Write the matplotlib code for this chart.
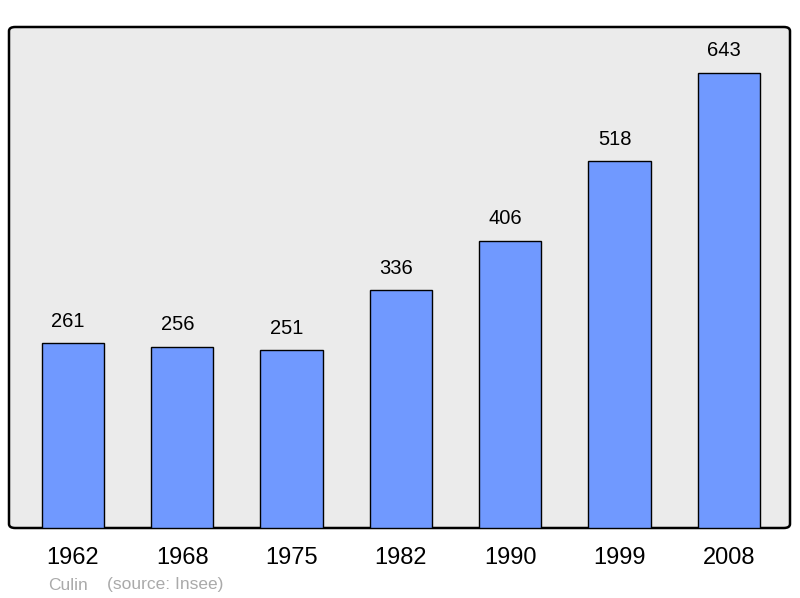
import matplotlib.pyplot as plt
from matplotlib.patches import FancyBboxPatch

plt.rcParams['font.family'] = ['Liberation Sans', 'DejaVu Sans']

years = ['1962', '1968', '1975', '1982', '1990', '1999', '2008']
population = [261, 256, 251, 336, 406, 518, 643]


def main():
    fig = plt.figure(figsize=(8, 5.98), dpi=100)
    ax = fig.add_axes([9 / 800, 1 - 528 / 598, 781 / 800, 501 / 598])
    ax.patch.set_visible(False)
    for s in ax.spines.values():
        s.set_visible(False)

    frame = FancyBboxPatch((0, 0), 1, 1, boxstyle='round,pad=0,rounding_size=0.008',
                           transform=ax.transAxes, facecolor='#ebebeb',
                           edgecolor='black', linewidth=1.8, zorder=0, clip_on=False)
    ax.add_patch(frame)

    x = list(range(len(years)))
    ax.bar(x, population, width=0.57, color='#7099ff', edgecolor='black',
           linewidth=1.0, zorder=2)

    for xi, v in zip(x, population):
        ax.annotate(str(v), (xi, v), xytext=(-3.5, 16), textcoords='offset points',
                    ha='center', va='center', fontsize=14.5, color='black')

    ax.set_xlim(-0.585, 6.56)
    ax.set_ylim(0, 708)
    ax.set_yticks([])
    ax.set_xticks(x)
    ax.set_xticklabels(years, fontsize=17)
    ax.tick_params(axis='x', length=0, pad=14)

    fig.text(48 / 800, 1 - 585 / 598, 'Culin', color='#aaaaaa', fontsize=12.5,
             ha='left', va='center')
    fig.text(107 / 800, 1 - 585 / 598, '(source: Insee)', color='#aaaaaa',
             fontsize=12.5, ha='left', va='center')

    fig.savefig('out.png', dpi=100)


if __name__ == '__main__':
    main()
